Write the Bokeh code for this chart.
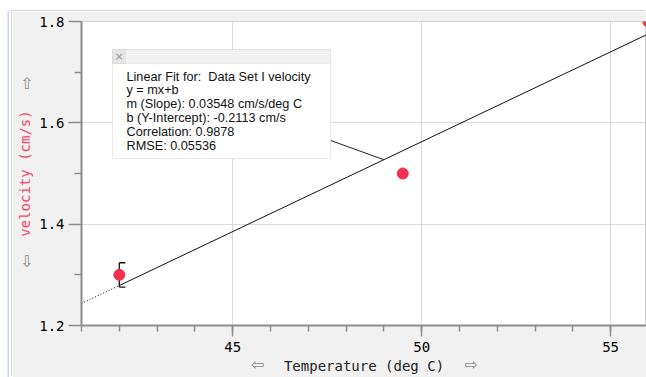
import numpy as np
from bokeh.plotting import figure
from bokeh.models import Label, BoxAnnotation, FixedTicker, Range1d, LinearAxis
from bokeh.embed import file_html
from bokeh.resources import INLINE

# ---- data ----
temperature = [42.0, 49.5, 56.0]
velocity = [1.30, 1.50, 1.80]
x_ticks = [45, 50, 55]
x_minor = list(range(41, 56))
y_ticks = [1.2, 1.4, 1.6, 1.8]
y_minor = [1.3, 1.5, 1.7]
slope = 0.03548
intercept = -0.2113
fit_text = [
    "Linear Fit for: \u00a0Data Set I velocity",
    "y = mx+b",
    "m (Slope): 0.03548 cm/s/deg C",
    "b (Y-Intercept): -0.2113 cm/s",
    "Correlation: 0.9878",
    "RMSE: 0.05536",
]
x_label = "Temperature (deg C)"
y_label = "velocity (cm/s)"

# ---- layout (window pixels) ----
W, H = 646, 377
ML, MT = 12, 11                  # white window margin left / top
FL, FT, FB = 81, 21, 325         # frame left / top / bottom in window px
X0, X1 = 41.0, 55.95

p = figure(width=W - ML, height=H - MT, x_range=Range1d(X0, X1), y_range=Range1d(1.2, 1.8),
           output_backend="svg", toolbar_location=None,
           min_border_left=FL - ML, min_border_right=0, min_border_top=FT - MT, min_border_bottom=H - FB)
p.margin = (MT, 0, 0, ML)
p.styles = {"box-shadow": "-1px -1px 0 0 #d4d4d4, -3px 0 0 0 #ffffff, -4.5px 0 0 0 #c9d0fb"}
p.border_fill_color = "#f1f1f1"
p.background_fill_color = "white"
p.outline_line_color = "#d0d0d0"

# pixel ranges for the axis-title rows
p.extra_x_ranges = {"px": Range1d(FL, W)}
p.extra_y_ranges = {"py": Range1d(FB, FT)}

axis_col = "#8c8c8c"
for ax, ticks, minor, tout, mout, standoff in [
    (p.xaxis[0], x_ticks, x_minor, 11, 6, 5),
    (p.yaxis[0], y_ticks, y_minor, 13, 7, 4),
]:
    ax.ticker = FixedTicker(ticks=ticks, minor_ticks=minor)
    ax.axis_line_color = axis_col
    ax.axis_line_width = 2
    ax.major_tick_line_color = axis_col
    ax.major_tick_line_width = 1.5
    ax.minor_tick_line_color = axis_col
    ax.minor_tick_line_width = 1.5
    ax.major_tick_in = 0
    ax.minor_tick_in = 0
    ax.major_tick_out = tout
    ax.minor_tick_out = mout
    ax.major_label_standoff = standoff
    ax.major_label_text_font = "DejaVu Sans Mono"
    ax.major_label_text_font_size = "14px"
    ax.major_label_text_color = "#000000"

# outer axes carrying the axis titles and the arrow glyphs
xarrows = {257: "⇦", 471: "⇨"}
yarrows = {83: "⇧", 261: "⇩"}
xa = LinearAxis(x_range_name="px", ticker=FixedTicker(ticks=list(xarrows), minor_ticks=[]),
                major_label_overrides=xarrows, axis_label=x_label, axis_label_standoff=-19)
ya = LinearAxis(y_range_name="py", ticker=FixedTicker(ticks=list(yarrows), minor_ticks=[]),
                major_label_overrides=yarrows, axis_label=y_label, axis_label_standoff=-16)
for ax, s, col in [(xa, 0, "#222222"), (ya, 3, "#f2456a")]:
    ax.axis_line_color = None
    ax.major_tick_line_color = None
    ax.minor_tick_line_color = None
    ax.major_tick_in = 0
    ax.major_tick_out = 0
    ax.major_label_standoff = s
    ax.major_label_text_font = "DejaVu Sans"
    ax.major_label_text_font_size = "16px"
    ax.major_label_text_color = "#8a8a8a"
    ax.axis_label_text_font = "DejaVu Sans Mono"
    ax.axis_label_text_font_size = "14px"
    ax.axis_label_text_font_style = "normal"
    ax.axis_label_text_color = col
ya.major_label_orientation = "horizontal"
p.add_layout(xa, "below")
p.add_layout(ya, "left")

p.xgrid.ticker = FixedTicker(ticks=x_ticks)
p.ygrid.ticker = FixedTicker(ticks=[1.4, 1.6])
p.xgrid.grid_line_color = "#d9d9d9"
p.ygrid.grid_line_color = "#d9d9d9"

# fit line: solid over the data, dotted extrapolation
xmin, xmax = min(temperature), max(temperature)
fx = np.array([xmin, xmax])
p.line(fx, slope * fx + intercept, line_color="#111111", line_width=1)
ex = np.array([X0, xmin])
p.line(ex, slope * ex + intercept, line_color="#111111", line_width=1, line_dash="1 2")

# bracket at fit start
yb = slope * xmin + intercept
p.segment(x0=[xmin, xmin, xmin], y0=[yb - 0.003, yb + 0.045, yb - 0.003],
          x1=[xmin, xmin + 0.16, xmin + 0.16], y1=[yb + 0.045, yb + 0.045, yb - 0.003],
          line_color="#111111", line_width=1.3)

# leader from callout to fit line
lx = 49.0
p.line([47.6, lx], [1.565, slope * lx + intercept], line_color="#222222", line_width=1)

# data points
p.scatter(temperature, velocity, size=11, fill_color="#f5304f", line_color="#f5304f")

def box(l, r, t, b, **kw):
    return BoxAnnotation(left=l - ML, right=r - ML, top=t - MT, bottom=b - MT, left_units="canvas",
                         right_units="canvas", top_units="canvas", bottom_units="canvas", fill_alpha=1, **kw)

# callout box (window px)
p.add_layout(box(112, 330, 49, 158, fill_color="white", line_color="#bdbdbd", line_width=1))
p.add_layout(box(112, 330, 49, 63, fill_color="#f2f2f2", line_color="#c8c8c8", line_width=1))
p.add_layout(box(112, 125, 49, 63, fill_color="#e4e4e4", line_color="#c8c8c8", line_width=1))
p.add_layout(Label(x=118.5 - ML, y=56 - MT, x_units="canvas", y_units="canvas", text="×", text_align="center",
                   text_baseline="middle", text_font="DejaVu Sans", text_font_size="11px", text_color="#999999"))
for i, t in enumerate(fit_text):
    p.add_layout(Label(x=126 - ML, y=76 + 13.8 * i - MT, x_units="canvas", y_units="canvas", text=t,
                       text_align="left", text_baseline="alphabetic", text_font="Liberation Sans",
                       text_font_size="12.7px", text_color="#111111"))

open("out.html", "w").write(file_html(p, INLINE))
